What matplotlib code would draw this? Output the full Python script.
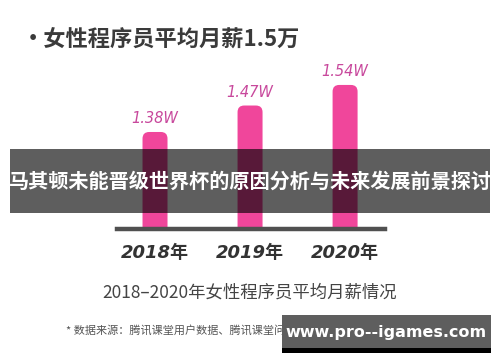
import matplotlib
matplotlib.use("Agg")
import matplotlib.pyplot as plt
from matplotlib.patches import FancyBboxPatch, Rectangle

plt.rcParams['font.family'] = ['Noto Sans CJK SC', 'DejaVu Sans']

years = ['2018年', '2019年', '2020年']
salary = [1.38, 1.47, 1.54]
value_labels = ['1.38W', '1.47W', '1.54W']
title = '•女性程序员平均月薪1.5万'
subtitle = '2018–2020年女性程序员平均月薪情况'
source = '* 数据来源：腾讯课堂用户数据、腾讯课堂问卷调研数据、猎聘用户数据'
banner = '马其顿未能晋级世界杯的原因分析与未来发展前景探讨'
watermark = 'www.pro--igames.com'

W, H = 500, 362
fig = plt.figure(figsize=(W / 100, H / 100), dpi=100)
fig.patch.set_facecolor('white')

# bar axes: baseline at y=229px, spans x 117..385px
ax = fig.add_axes([117 / W, (H - 229) / H, 268 / W, 169 / H])
ymin = 1.05
ax.set_ylim(ymin, ymin + 169 / 294)
ax.set_xlim(-0.4, 2.42)
bar_w = 0.263

# rounded bars, aspect correction so corners are circular in pixels
px_per_x = 268 / 2.82
px_per_y = 294
for i, v in enumerate(salary):
    bottom = ymin - 0.1
    p = FancyBboxPatch((i - bar_w / 2, bottom), bar_w, v - bottom,
                       boxstyle='round,pad=0,rounding_size=0.07',
                       mutation_aspect=px_per_x / px_per_y,
                       facecolor='#f0469b', edgecolor='none', clip_on=True)
    ax.add_patch(p)
    ax.text(i, v + 0.02, value_labels[i], ha='center', va='bottom',
            fontsize=10.5, color='#c8489c', style='italic',
            family=['DejaVu Sans'])

for s in ['top', 'right', 'left']:
    ax.spines[s].set_visible(False)
ax.spines['bottom'].set_linewidth(3.2)
ax.spines['bottom'].set_color('#505050')
ax.set_yticks([])
ax.set_xticks(range(len(years)))
ax.set_xticklabels(years, fontsize=13, fontweight='bold', style='italic',
                   color='#333333', family=['DejaVu Sans', 'Noto Sans CJK SC'])
ax.tick_params(axis='x', length=0, pad=11)
ax.patch.set_alpha(0)

fig.text(22 / W, 1 - 40 / H, title, fontsize=16, fontweight='bold',
         color='#3a3a3a', va='center', ha='left')
fig.text(250 / W, 1 - 293 / H, subtitle, fontsize=12.5, color='#444444',
         ha='center', va='center')
fig.text(66 / W, 1 - 330 / H, source, fontsize=8, color='#555555',
         ha='left', va='center')

# overlay banner
fig.patches.append(Rectangle((10 / W, 1 - 213 / H), 480 / W, 64 / H,
                             transform=fig.transFigure, facecolor='black',
                             alpha=0.63, edgecolor='none', zorder=5))
fig.text(250 / W, 1 - 181 / H, banner, fontsize=14.5, fontweight='bold',
         color='white', ha='center', va='center', zorder=6)

# watermark box
fig.patches.append(Rectangle((282 / W, 1 - 348 / H), 209 / W, 33 / H,
                             transform=fig.transFigure, facecolor='#5e5e5e',
                             edgecolor='none', zorder=5))
fig.patches.append(Rectangle((282 / W, 1 - 353 / H), 209 / W, 5 / H,
                             transform=fig.transFigure, facecolor='black',
                             edgecolor='none', zorder=5))
fig.text(386 / W, 1 - 332 / H, watermark, fontsize=11.5, fontweight='bold',
         color='white', ha='center', va='center', zorder=6, family='DejaVu Sans')

fig.savefig('out.png', dpi=100)
